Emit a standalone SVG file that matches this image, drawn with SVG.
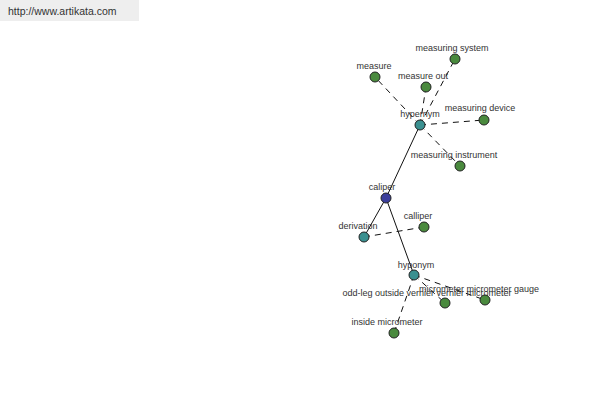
<svg xmlns="http://www.w3.org/2000/svg" width="600" height="400" viewBox="0 0 600 400">
<style>
.t{font-family:"Liberation Sans",Arial,sans-serif;font-size:9px;fill:#333;text-anchor:middle}
.n{stroke:#222;stroke-width:1}
.g{fill:#4a8a3e}.c{fill:#3a9090}.b{fill:#3c3f9c}
.s{stroke:#111;stroke-width:1;fill:none}
.d{stroke:#111;stroke-width:1;fill:none;stroke-dasharray:6,5}
</style>
<rect x="0" y="0" width="139" height="21" fill="#eeeeee"/>
<text x="8" y="15" style="font-family:'Liberation Sans',Arial,sans-serif;font-size:10.5px;fill:#333">http://www.artikata.com</text>
<g id="connectors">
<line class="s" x1="420" y1="125" x2="386" y2="198"/>
<line class="s" x1="386" y1="198" x2="364" y2="237"/>
<line class="s" x1="386" y1="198" x2="414" y2="275"/>
<line class="d" x1="420" y1="125" x2="375" y2="77"/>
<line class="d" x1="420" y1="125" x2="426" y2="87"/>
<line class="d" x1="420" y1="125" x2="455" y2="59"/>
<line class="d" x1="420" y1="125" x2="484" y2="120"/>
<line class="d" x1="420" y1="125" x2="460" y2="166"/>
<line class="d" x1="364" y1="237" x2="424" y2="227"/>
<line class="d" x1="414" y1="275" x2="445" y2="303"/>
<line class="d" x1="414" y1="275" x2="485" y2="300"/>
<line class="d" x1="414" y1="275" x2="394" y2="333"/>
</g>
<g id="measure"><circle class="n g" cx="375" cy="77" r="5"/><text class="t" x="374" y="69">measure</text></g>
<g id="measure-out"><circle class="n g" cx="426" cy="87" r="5"/><text class="t" x="423" y="79">measure out</text></g>
<g id="measuring-system"><circle class="n g" cx="455" cy="59" r="5"/><text class="t" x="452" y="51">measuring system</text></g>
<g id="hypernym"><circle class="n c" cx="420" cy="125" r="5"/><text class="t" x="420" y="117">hypernym</text></g>
<g id="measuring-device"><circle class="n g" cx="484" cy="120" r="5"/><text class="t" x="480" y="111">measuring device</text></g>
<g id="measuring-instrument"><circle class="n g" cx="460" cy="166" r="5"/><text class="t" x="454" y="158">measuring instrument</text></g>
<g id="caliper"><circle class="n b" cx="386" cy="198" r="5"/><text class="t" x="382" y="190">caliper</text></g>
<g id="derivation"><circle class="n c" cx="364" cy="237" r="5"/><text class="t" x="358" y="229">derivation</text></g>
<g id="calliper"><circle class="n g" cx="424" cy="227" r="5"/><text class="t" x="418" y="219">calliper</text></g>
<g id="hyponym"><circle class="n c" cx="414" cy="275" r="5"/><text class="t" x="416" y="268">hyponym</text></g>
<g id="odd-leg"><circle class="n g" cx="445" cy="303" r="5"/><text class="t" x="427" y="296">odd-leg outside vernier vernier micrometer</text></g>
<g id="micrometer-gauge"><circle class="n g" cx="485" cy="300" r="5"/><text class="t" x="479" y="292">micrometer micrometer gauge</text></g>
<g id="inside-micrometer"><circle class="n g" cx="394" cy="333" r="5"/><text class="t" x="387" y="325">inside micrometer</text></g>
</svg>
